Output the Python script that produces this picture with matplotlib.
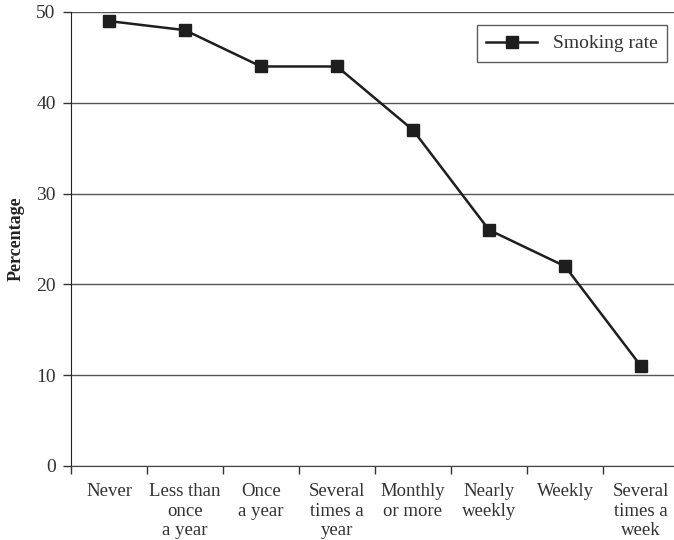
import matplotlib
matplotlib.use("Agg")
import matplotlib.pyplot as plt

# Data
categories = ["Never", "Less than\nonce\na year", "Once\na year", "Several\ntimes a\nyear",
              "Monthly\nor more", "Nearly\nweekly", "Weekly", "Several\ntimes a\nweek"]
smoking_rate = [49, 48, 44, 44, 37, 26, 22, 11]

plt.rcParams['font.family'] = ['Liberation Serif', 'DejaVu Serif']

fig = plt.figure(figsize=(6.74, 5.4), dpi=100)
# axes spans x 71..679 px, y 12..466 px
ax = fig.add_axes([71 / 674, (540 - 466) / 540, 608 / 674, 454 / 540])

xs = [i + 0.5 for i in range(len(categories))]
ax.plot(xs, smoking_rate, color='#1e1e1e', lw=1.8, marker='s', ms=8,
        label='Smoking rate')

ax.set_xlim(0, len(categories))
ax.set_ylim(0, 50)
ax.set_yticks([0, 10, 20, 30, 40, 50])
ax.yaxis.grid(True, color='#555555', lw=1)
ax.set_axisbelow(True)

# category labels centred, ticks on boundaries
ax.set_xticks(range(len(categories) + 1))
ax.set_xticklabels([])
ax.set_xticks(xs, minor=True)
ax.set_xticklabels(categories, minor=True, fontsize=13.5, color='#333333', linespacing=1.22)
ax.tick_params(axis='x', which='minor', length=0, pad=12)
ax.tick_params(axis='x', which='major', length=6, width=1, color='#333333')
ax.tick_params(axis='y', length=6, width=1, color='#333333', labelsize=14,
               labelcolor='#333333', pad=5)

for s in ['top', 'right']:
    ax.spines[s].set_visible(False)
ax.spines['left'].set_color('#222222')
ax.spines['bottom'].set_color('#444444')

ax.set_ylabel('Percentage', fontsize=13, fontweight='bold', color='#222222', labelpad=8)

leg = ax.legend(loc='upper right', bbox_to_anchor=(596 / 608, 1 - 13 / 454), fontsize=14,
                frameon=True, fancybox=False, edgecolor='#333333', handlelength=2.6,
                borderpad=0.5, borderaxespad=0, labelcolor='#333333')
leg.get_frame().set_linewidth(1)

fig.savefig('out.png', dpi=100)
